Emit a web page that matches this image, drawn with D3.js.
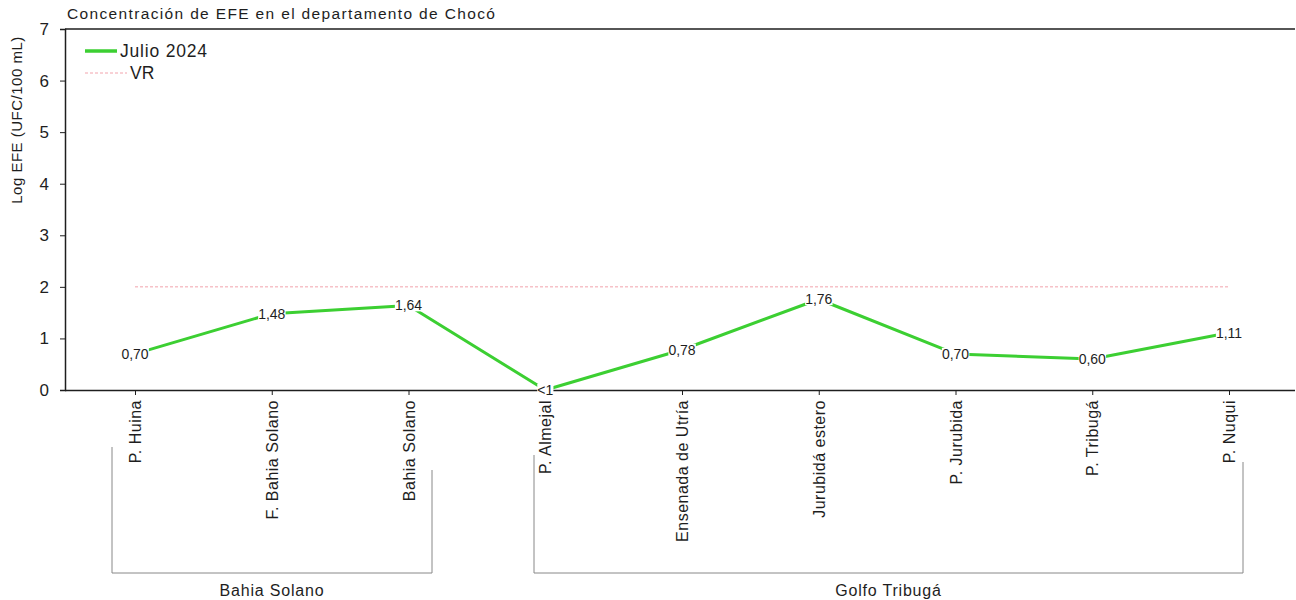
<!DOCTYPE html>
<html>
<head>
<meta charset="utf-8">
<script src="https://cdn.jsdelivr.net/npm/d3@7/dist/d3.min.js"></script>
<style>
  body { margin: 0; background: #fff; }
  svg { display: block; font-family: "Liberation Sans", Arial, sans-serif; }
</style>
</head>
<body>
<svg id="chart" width="1296" height="600"></svg>
<script>
const categories = ["P. Huina", "F. Bahia Solano", "Bahia Solano", "P. Almejal", "Ensenada de Utría", "Jurubidá estero", "P. Jurubida", "P. Tribugá", "P. Nuqui"];
const values = [0.70, 1.48, 1.64, 0, 0.78, 1.76, 0.70, 0.60, 1.11];
const valueLabels = ["0,70", "1,48", "1,64", "<1", "0,78", "1,76", "0,70", "0,60", "1,11"];
const vrValue = 2;
const yTicks = [0, 1, 2, 3, 4, 5, 6, 7];
const groups = [
  { name: "Bahia Solano", first: "P. Huina", last: "Bahia Solano" },
  { name: "Golfo Tribugá", first: "P. Almejal", last: "P. Nuqui" }
];
const seriesName = "Julio 2024";
const vrName = "VR";
const title = "Concentración de EFE en el departamento de Chocó";
const yTitle = "Log EFE (UFC/100 mL)";

(function () {
const svg = d3.select("#chart");
const mLeft = 65, mRight = 1295, mTop = 29, mBottom = 390;
const green = "#3ccf32";
const vrColor = "#f2a3ac";
const ink = "#1e1e1e";

const x = d3.scalePoint().domain(categories).range([135, 1229]);
const y = d3.scaleLinear().domain([0, 7]).range([mBottom, mTop]);

// frame line (top)
svg.append("line").attr("x1", mLeft).attr("x2", mRight).attr("y1", mTop).attr("y2", mTop)
  .attr("stroke", ink).attr("stroke-width", 1.5);

// y axis
const yAxis = svg.append("g").attr("transform", `translate(${mLeft},0)`)
  .call(d3.axisLeft(y).tickValues(yTicks).tickSize(5).tickFormat(d3.format("d")));
yAxis.select(".domain").attr("stroke", ink).attr("stroke-width", 1.5);
yAxis.selectAll(".tick line").attr("stroke", ink);
yAxis.selectAll(".tick text").attr("font-size", 17).attr("fill", ink)
  .attr("font-family", "Liberation Sans, Arial, sans-serif").attr("x", -16);

// x axis
const xAxis = svg.append("g").attr("transform", `translate(0,${mBottom})`)
  .call(d3.axisBottom(x).tickSize(5).tickSizeOuter(0));
xAxis.select(".domain").attr("d", `M${mLeft},0.5H${mRight}`).attr("stroke", ink).attr("stroke-width", 1.5);
xAxis.selectAll(".tick line").attr("stroke", ink);
xAxis.selectAll(".tick text")
  .attr("font-size", 16).attr("fill", ink)
  .attr("letter-spacing", 0.5)
  .attr("font-family", "Liberation Sans, Arial, sans-serif")
  .attr("transform", "rotate(-90)")
  .attr("text-anchor", "end")
  .attr("x", -10).attr("y", 0).attr("dy", "0.35em");

// VR line
svg.append("line")
  .attr("x1", x(categories[0])).attr("x2", x(categories[categories.length - 1]))
  .attr("y1", y(vrValue)).attr("y2", y(vrValue))
  .attr("stroke", vrColor).attr("stroke-width", 1).attr("stroke-dasharray", "3,2");

// series line
const line = d3.line().x((d, i) => x(categories[i])).y(d => y(d));
svg.append("path").datum(values).attr("d", line)
  .attr("fill", "none").attr("stroke", green).attr("stroke-width", 3).attr("stroke-linejoin", "round");

// value labels
const lbl = svg.append("g").selectAll("g").data(values).join("g")
  .attr("transform", (d, i) => `translate(${x(categories[i])},${y(d)})`);
lbl.each(function (d, i) {
  const g = d3.select(this);
  const t = g.append("text").text(valueLabels[i])
    .attr("text-anchor", "middle").attr("dy", "0.35em")
    .attr("font-size", 14).attr("fill", ink);
  const bb = t.node().getBBox();
  g.insert("rect", "text").attr("x", bb.x).attr("y", bb.y + 2)
    .attr("width", bb.width).attr("height", bb.height - 4).attr("fill", "#fff");
});

// title
svg.append("text").attr("x", 67).attr("y", 19).text(title)
  .attr("font-size", 15.5).attr("letter-spacing", 1.35).attr("fill", ink);

// y title
svg.append("text").attr("transform", "translate(22,120) rotate(-90)")
  .attr("text-anchor", "middle").attr("font-size", 15).attr("letter-spacing", 0.5)
  .attr("fill", ink).text(yTitle);

// legend
svg.append("line").attr("x1", 85).attr("x2", 117).attr("y1", 51).attr("y2", 51)
  .attr("stroke", green).attr("stroke-width", 3.5);
svg.append("text").attr("x", 120).attr("y", 57).attr("font-size", 17.5)
  .attr("letter-spacing", 0.8).attr("fill", ink).text(seriesName);
svg.append("line").attr("x1", 85).attr("x2", 127).attr("y1", 73).attr("y2", 73)
  .attr("stroke", vrColor).attr("stroke-width", 1).attr("stroke-dasharray", "3,2");
svg.append("text").attr("x", 130).attr("y", 79).attr("font-size", 17.5).attr("fill", ink).text(vrName);

// group brackets
const groupGeom = [
  { lx: 112, rx: 432, ltop: 447, rtop: 470 },
  { lx: 534, rx: 1243, ltop: 455, rtop: 462 }
];
const by = 573;
groups.forEach((gr, i) => {
  const gg = groupGeom[i];
  const p = d3.path();
  p.moveTo(gg.lx, gg.ltop); p.lineTo(gg.lx, by); p.lineTo(gg.rx, by); p.lineTo(gg.rx, gg.rtop);
  svg.append("path").attr("d", p.toString()).attr("fill", "none").attr("stroke", "#888").attr("stroke-width", 1);
  svg.append("text").attr("x", (gg.lx + gg.rx) / 2).attr("y", 596)
    .attr("text-anchor", "middle").attr("font-size", 16).attr("letter-spacing", 0.8)
    .attr("fill", ink).text(gr.name);
});
})();
</script>
</body>
</html>
